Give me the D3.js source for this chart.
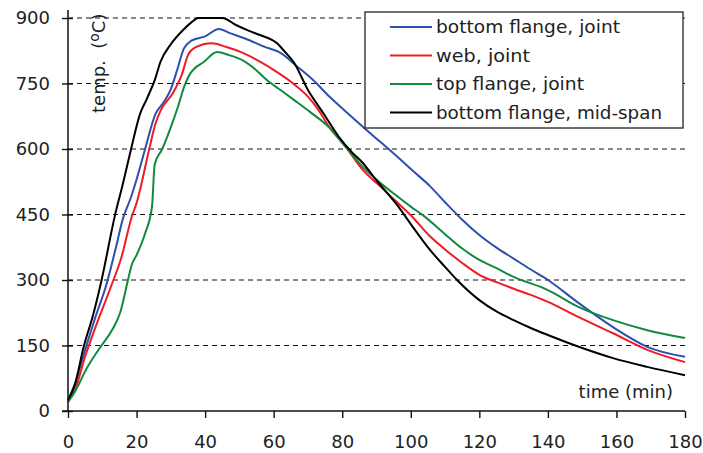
<!DOCTYPE html>
<html>
<head>
<meta charset="utf-8">
<script src="https://cdn.jsdelivr.net/npm/d3@7/dist/d3.min.js"></script>
<style>
  html, body { margin: 0; padding: 0; background: #fff; }
  svg { display: block; }
  text { font-family: "DejaVu Sans", Verdana, sans-serif; fill: #222; }
</style>
</head>
<body>
<svg id="chart" width="703" height="453"></svg>
<script>
// Measured steel temperatures [time (min), temperature (°C)]
const bottomFlangeJoint = [
  [0,25],[2,62],[5,140],[8,215],[11.3,292],[14,375],[16,440],[18.4,490],[20,530],
  [22.5,600],[25.5,680],[28,708],[30,737],[32,785],[33.8,830],[36,848],[40,858],[44,875],
  [47,866],[52,852],[57,835],[62,820],[67,788],[71.5,758],[76.4,719],[81,686],[86,651],
  [91,617],[96,583],[100.6,550],[105.6,515],[110,478],[115,438],[120,403],[125,374],
  [130,349],[135,324],[140,300],[149,247],[159,192],[169,147],[180,124]
];
const webJoint = [
  [0,25],[2,48],[5,125],[8.4,200],[12.3,280],[15.7,355],[18.6,445],[20,476],[23.7,600],
  [25.4,655],[27,688],[30.6,728],[33.2,770],[35,815],[37,832],[42,842],[46,834],[51,820],
  [56,800],[61,776],[66,748],[70,720],[73,690],[76.4,648],[81,605],[86,552],[91,515],
  [96,478],[99.8,450],[105.6,400],[110,370],[115,339],[120,312],[125,295],[130,280],
  [135,266],[140,250],[149,215],[159,178],[169,140],[180,112]
];
const topFlangeJoint = [
  [0,20],[2,44],[5.4,97],[9.3,145],[13.2,190],[15.2,225],[17.5,300],[18.6,335],[20,357],
  [22.5,407],[24.5,468],[25.3,565],[27.5,600],[30,650],[32,695],[34,745],[35.6,772],
  [37,785],[39.4,798],[43.5,822],[47,815],[51,803],[55,780],[58,758],[62,735],[66,712],
  [70.6,685],[76.4,648],[81,605],[86,559],[91,523],[96,492],[100,468],[103.6,448],
  [110,405],[115,372],[120,346],[125,327],[130,307],[140,277],[149,238],[159,208],
  [169,185],[180,167]
];
const bottomFlangeMidSpan = [
  [0,25],[2,60],[4.5,145],[7.4,222],[9.8,300],[13.7,448],[16,520],[18.4,600],[21,680],
  [23,715],[25.4,760],[27,800],[30,840],[33.5,872],[36,890],[38,900],[45,900],[49,884],
  [53,870],[56,861],[61,842],[63,825],[66,797],[70,735],[74.5,682],[79,628],[83,591],
  [86,568],[90,528],[96,472],[100,428],[105.6,369],[110,330],[113.5,300],[120,254],
  [125,228],[130,208],[135,190],[140,174],[149,147],[159,121],[169,101],[180,82]
];

const seriesNames = ["bottom flange, joint", "web, joint", "top flange, joint", "bottom flange, mid-span"];
const seriesData = [bottomFlangeJoint, webJoint, topFlangeJoint, bottomFlangeMidSpan];
const xTicks = [0, 20, 40, 60, 80, 100, 120, 140, 160, 180];
const yTicks = [0, 150, 300, 450, 600, 750, 900];

const colors = ["#2f4fae", "#ee1c24", "#118a3e", "#000000"];

const svg = d3.select("#chart");
const x = d3.scaleLinear().domain([0, 180]).range([68, 685]);
const y = d3.scaleLinear().domain([0, 900]).range([411, 18]);

// dashed horizontal grid
svg.append("g")
  .selectAll("line")
  .data(yTicks.filter(d => d > 0))
  .join("line")
  .attr("x1", x(0)).attr("x2", x(180))
  .attr("y1", d => y(d)).attr("y2", d => y(d))
  .attr("stroke", "#111").attr("stroke-width", 1)
  .attr("stroke-dasharray", "5,4");

// curves
const line = d3.line()
  .x(d => x(d[0]))
  .y(d => y(d[1]))
  .curve(d3.curveMonotoneX);

svg.append("g")
  .selectAll("path")
  .data(seriesData)
  .join("path")
  .attr("d", line)
  .attr("fill", "none")
  .attr("stroke", (d, i) => colors[i])
  .attr("stroke-width", 2)
  .attr("stroke-linejoin", "round");

// y axis
const yAxis = svg.append("g")
  .attr("transform", `translate(${x(0)},0)`)
  .call(d3.axisLeft(y).tickValues(yTicks).tickSize(6).tickSizeOuter(0).tickPadding(12));
yAxis.select(".domain").remove();
yAxis.selectAll(".tick line").attr("x1", 5).attr("x2", -6).attr("stroke", "#111").attr("stroke-width", 1.4);
yAxis.selectAll(".tick text").attr("font-size", 18).attr("x", -18)
  .style("font-family", "'DejaVu Sans', sans-serif").attr("fill", "#222");
svg.append("line")
  .attr("x1", x(0)).attr("x2", x(0)).attr("y1", 10).attr("y2", y(0))
  .attr("stroke", "#111").attr("stroke-width", 1.5);

// x axis
const xAxis = svg.append("g")
  .attr("transform", `translate(0,${y(0)})`)
  .call(d3.axisBottom(x).tickValues(xTicks).tickSize(7).tickSizeOuter(0));
xAxis.select(".domain").remove();
xAxis.selectAll(".tick line").attr("stroke", "#111").attr("stroke-width", 1.4);
xAxis.selectAll(".tick text").attr("font-size", 18).attr("y", 37).attr("dy", 0)
  .style("font-family", "'DejaVu Sans', sans-serif").attr("fill", "#222");
svg.append("line")
  .attr("x1", x(0) - 6).attr("x2", x(180)).attr("y1", y(0)).attr("y2", y(0))
  .attr("stroke", "#111").attr("stroke-width", 1.5);

// axis titles
svg.append("text")
  .attr("x", 673).attr("y", 398)
  .attr("text-anchor", "end")
  .attr("font-size", 18)
  .text("time (min)");

const yTitle = svg.append("text")
  .attr("transform", "translate(105,113) rotate(-90)")
  .attr("font-size", 18)
  .style("white-space", "pre");
yTitle.append("tspan").text("temp.  (");
yTitle.append("tspan").attr("font-size", 14).attr("dy", -6).text("o");
yTitle.append("tspan").attr("dy", 6).text("C)");

// legend
const legend = svg.append("g");
legend.append("rect")
  .attr("x", 365).attr("y", 12).attr("width", 318).attr("height", 116)
  .attr("fill", "#fff").attr("stroke", "#333").attr("stroke-width", 1.4);
const legendTextWidths = [184, 94, 148, 226];
const rows = legend.selectAll("g.row")
  .data(seriesNames)
  .join("g")
  .attr("class", "row")
  .attr("transform", (d, i) => `translate(0,${27 + i * 28.5})`);
rows.append("line")
  .attr("x1", 390).attr("x2", 432).attr("y1", 0).attr("y2", 0)
  .attr("stroke", (d, i) => colors[i]).attr("stroke-width", 2);
rows.append("text")
  .attr("x", 436).attr("y", 6)
  .attr("font-size", 18)
  .attr("textLength", (d, i) => legendTextWidths[i])
  .attr("lengthAdjust", "spacingAndGlyphs")
  .text(d => d);
</script>
</body>
</html>
